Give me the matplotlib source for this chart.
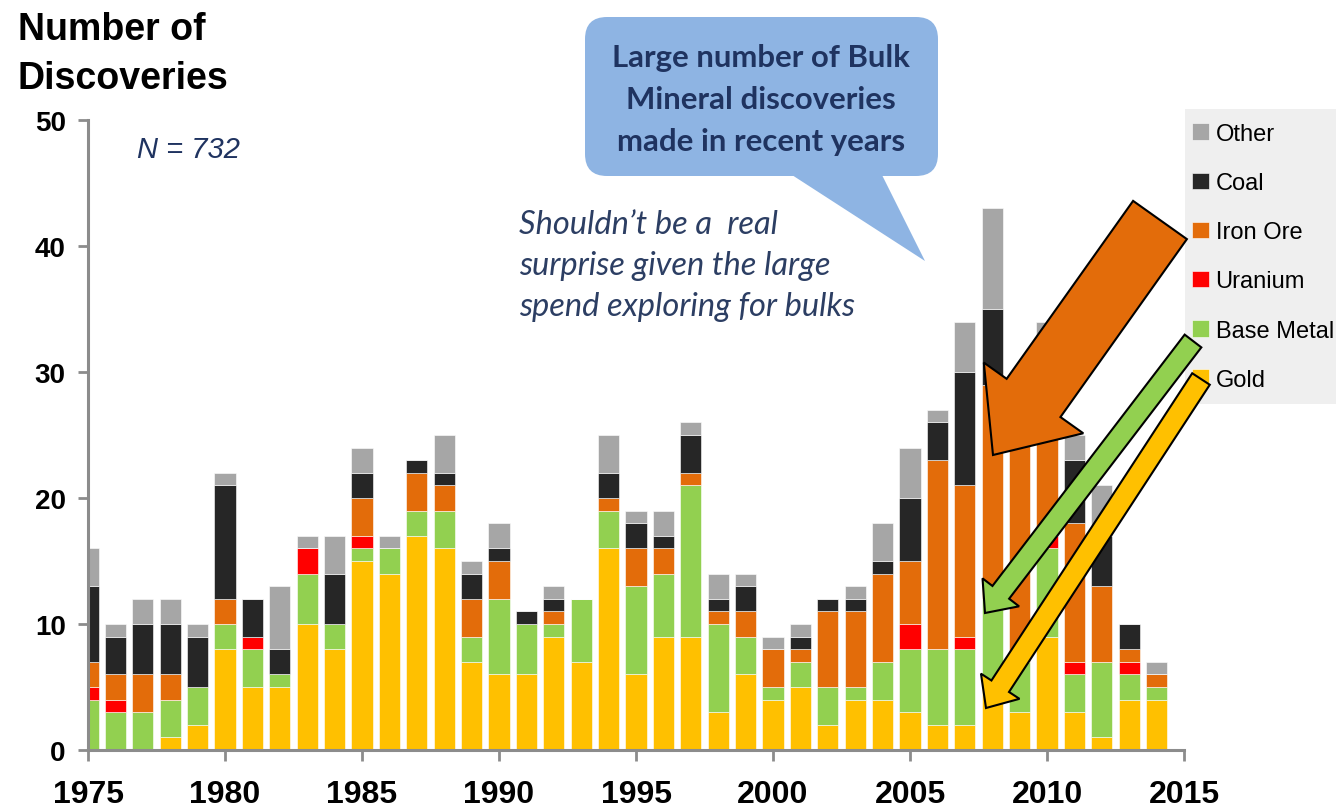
import numpy as np
import matplotlib
matplotlib.use('Agg')
import matplotlib.pyplot as plt
import matplotlib.patches as mpatches

# discoveries per year, by commodity
years = np.arange(1975, 2015)
gold = [0, 0, 0, 1, 2, 8, 5, 5, 10, 8, 15, 14, 17, 16, 7, 6, 6, 9, 7, 16,
        6, 9, 9, 3, 6, 4, 5, 2, 4, 4, 3, 2, 2, 5, 3, 9, 3, 1, 4, 4]
base_metal = [4, 3, 3, 3, 3, 2, 3, 1, 4, 2, 1, 2, 2, 3, 2, 6, 4, 1, 5, 3,
              7, 5, 12, 7, 3, 1, 2, 3, 1, 3, 5, 6, 6, 7, 4, 7, 3, 6, 2, 1]
uranium = [1, 1, 0, 0, 0, 0, 1, 0, 2, 0, 1, 0, 0, 0, 0, 0, 0, 0, 0, 0,
           0, 0, 0, 0, 0, 0, 0, 0, 0, 0, 2, 0, 1, 0, 0, 1, 1, 0, 1, 0]
iron_ore = [2, 2, 3, 2, 0, 2, 0, 0, 0, 0, 3, 0, 3, 2, 3, 3, 0, 1, 0, 1,
            3, 2, 1, 1, 2, 3, 1, 6, 6, 7, 5, 15, 12, 17, 18, 14, 11, 6, 1, 1]
coal = [6, 3, 4, 4, 4, 9, 3, 2, 0, 4, 2, 0, 1, 1, 2, 1, 1, 1, 0, 2,
        2, 1, 3, 1, 2, 0, 1, 1, 1, 1, 5, 3, 9, 6, 2, 2, 5, 4, 2, 0]
other = [3, 1, 2, 2, 1, 1, 0, 5, 1, 3, 2, 1, 0, 3, 1, 2, 0, 1, 0, 3,
         1, 2, 1, 2, 1, 1, 1, 0, 1, 3, 4, 1, 4, 8, 2, 1, 2, 4, 0, 1]

series = [('Gold', gold, '#ffc000'),
          ('Base Metal', base_metal, '#92d050'),
          ('Uranium', uranium, '#ff0000'),
          ('Iron Ore', iron_ore, '#e36c0a'),
          ('Coal', coal, '#262626'),
          ('Other', other, '#a6a6a6')]

W, H = 1336, 812
fig = plt.figure(figsize=(W / 100, H / 100), dpi=100)
ax = fig.add_axes([88 / W, 1 - 751 / H, (1184 - 88) / W, (751 - 121) / H])


def inch(x, y):
    # picture pixel (y from top) -> figure inches
    return x / 100, (H - y) / 100


bottom = np.zeros(len(years))
handles = []
for name, vals, col in series:
    b = ax.bar(years, vals, width=0.77, bottom=bottom, color=col, label=name,
               edgecolor='white', linewidth=0.4)
    handles.append(b)
    bottom += np.array(vals)

ax.set_xlim(1975, 2015)
ax.set_ylim(0, 50)
ax.set_xticks(range(1975, 2016, 5))
ax.set_yticks(range(0, 51, 10))
for s in ['top', 'right']:
    ax.spines[s].set_visible(False)
for s in ['left', 'bottom']:
    ax.spines[s].set_color('#8c8c8c')
    ax.spines[s].set_linewidth(2.2)
ax.tick_params(axis='y', direction='out', length=7, width=2, color='#8c8c8c', pad=9)
ax.tick_params(axis='x', direction='out', length=8, width=2, color='#8c8c8c', pad=13)
for lab in ax.get_yticklabels():
    lab.set_fontfamily('Liberation Sans')
    lab.set_fontweight('bold')
    lab.set_fontsize(20)
for lab in ax.get_xticklabels():
    lab.set_fontfamily('Liberation Sans')
    lab.set_fontweight('bold')
    lab.set_fontsize(23)

# axis title
fig.text(18 / W, 1 - 40 / H, 'Number of', fontsize=27, fontweight='bold',
         family='Liberation Sans', va='baseline')
fig.text(18 / W, 1 - 89 / H, 'Discoveries', fontsize=27, fontweight='bold',
         family='Liberation Sans', va='baseline')

navy = '#1f3360'
fig.text(137 / W, 1 - 150 / H, 'N = 732', fontsize=21, style='italic',
         color=navy, family='Liberation Sans', va='center')

# legend on grey panel
x0, y0 = inch(1185, 405)
fig.add_artist(mpatches.Rectangle((x0, y0), 1.6, 2.95, transform=fig.dpi_scale_trans,
                                  facecolor='#efefef', edgecolor='none', zorder=0))
leg = ax.legend(handles[::-1], [s[0] for s in series][::-1],
                loc='upper left', bbox_to_anchor=(1192 / W, 1 - 124 / H),
                bbox_transform=fig.transFigure, frameon=False,
                prop={'family': 'Liberation Sans', 'size': 17},
                handlelength=0.7, handleheight=0.7, handletextpad=0.3,
                labelspacing=1.15, borderpad=0, borderaxespad=0)

# callout bubble
bx, by = inch(585, 177)
fig.add_artist(mpatches.FancyBboxPatch((bx, by), 3.53, 1.59,
                                       boxstyle='round,pad=0,rounding_size=0.22',
                                       transform=fig.dpi_scale_trans,
                                       facecolor='#8eb4e3', edgecolor='none'))
fig.add_artist(mpatches.Polygon([inch(792, 176), inch(882, 176), inch(925, 262)],
                                closed=True, transform=fig.dpi_scale_trans,
                                facecolor='#8eb4e3', edgecolor='none'))
fig.text(761 / W, 1 - 100 / H,
         'Large number of Bulk\nMineral discoveries\nmade in recent years',
         ha='center', va='center', fontsize=22.4, fontweight='bold', color=navy,
         family='Lato', linespacing=1.6)

fig.text(519 / W, 1 - 266 / H,
         'Shouldn\u2019t be a  real\nsurprise given the large\nspend exploring for bulks',
         ha='left', va='center', fontsize=23.5, style='italic', color='#2c3e63',
         family='Lato', linespacing=1.44)


# arrows pointing at the bulk commodities
def arrow(tail, tip, width, head_width, head_length, col):
    tx, ty = inch(*tail)
    hx, hy = inch(*tip)
    a = mpatches.FancyArrow(tx, ty, hx - tx, hy - ty, width=width / 100,
                            head_width=head_width / 100, head_length=head_length / 100,
                            length_includes_head=True, transform=fig.dpi_scale_trans,
                            facecolor=col, edgecolor='black', linewidth=1.5, zorder=5)
    fig.add_artist(a)


arrow((1160, 221), (993, 456), 66, 122, 70, '#e36c0a')
arrow((1193, 342), (985, 614), 21, 46, 26, '#92d050')
arrow((1201, 380), (986, 709), 21, 46, 26, '#ffc000')

fig.savefig('out.png', dpi=100)
